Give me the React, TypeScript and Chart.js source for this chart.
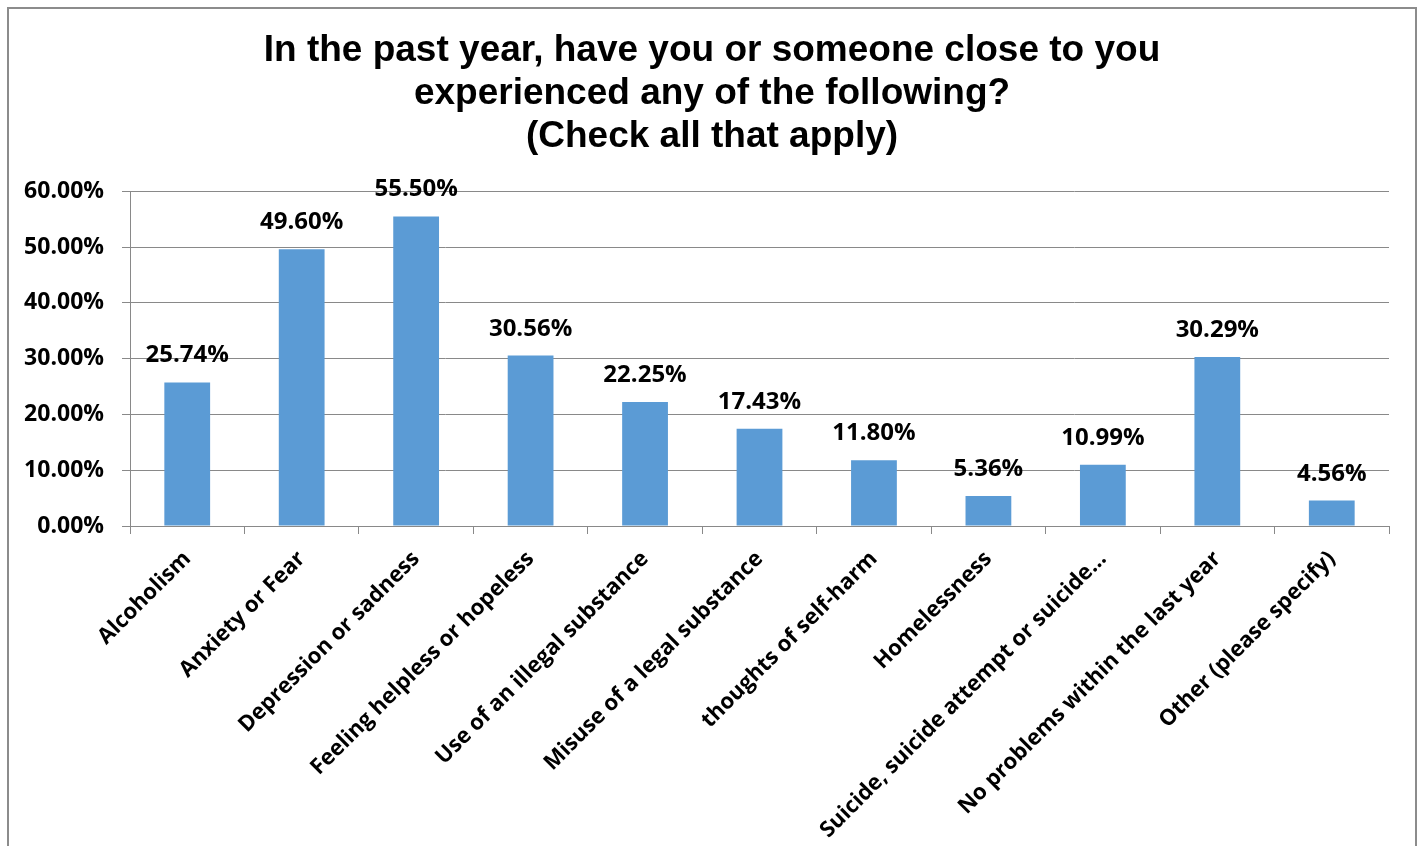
import React, { useEffect, useRef } from "react";
import { Chart, registerables } from "chart.js";

Chart.register(...registerables);

const titleLines = [
  "In the past year, have you or someone close to you",
  "experienced any of the following?",
  "(Check all that apply)",
];

const categories = [
  "Alcoholism",
  "Anxiety or Fear",
  "Depression or sadness",
  "Feeling helpless or hopeless",
  "Use of an illegal substance",
  "Misuse of a legal substance",
  "thoughts of self-harm",
  "Homelessness",
  "Suicide, suicide attempt or suicide…",
  "No problems within the last year",
  "Other (please specify)",
];

const values = [25.74, 49.6, 55.5, 30.56, 22.25, 17.43, 11.8, 5.36, 10.99, 30.29, 4.56];

const yTicks = [0, 10, 20, 30, 40, 50, 60];

const GRID = "#898989";
const BAR = "#5B9BD5";
const LABEL_FONT = "'Open Sans', sans-serif";

const dataLabels = {
  id: "dataLabels",
  afterDatasetsDraw(chart: any) {
    const ctx = chart.ctx;
    const meta = chart.getDatasetMeta(0);
    ctx.save();
    ctx.font = `bold 24px ${LABEL_FONT}`;
    ctx.fillStyle = "#000";
    ctx.textAlign = "center";
    ctx.textBaseline = "alphabetic";
    meta.data.forEach((bar: any, i: number) => {
      const v = chart.data.datasets[0].data[i] as number;
      ctx.fillText(v.toFixed(2) + "%", bar.x, bar.y - 20);
    });
    ctx.restore();
  },
};

export default function App() {
  const ref = useRef<HTMLCanvasElement | null>(null);

  useEffect(() => {
    if (!ref.current) return;
    const chart = new Chart(ref.current, {
      type: "bar",
      data: {
        labels: categories,
        datasets: [
          {
            data: values,
            backgroundColor: BAR,
            barPercentage: 0.4,
            categoryPercentage: 1,
          },
        ],
      },
      options: {
        responsive: false,
        animation: false,
        layout: { padding: 0 },
        plugins: {
          legend: { display: false },
          tooltip: { enabled: false },
          title: {
            display: true,
            text: titleLines,
            color: "#000",
            font: { family: "'Liberation Sans', Arial, sans-serif", size: 37, weight: "bold", lineHeight: 1.165 },
            padding: { top: 20, bottom: 33 },
          },
        },
        scales: {
          x: {
            grid: {
              display: true,
              drawOnChartArea: false,
              offset: true,
              color: GRID,
              tickLength: 8,
            },
            border: { display: true, color: GRID, width: 1 },
            ticks: {
              autoSkip: false,
              maxRotation: 45,
              minRotation: 45,
              color: "#000",
              padding: 12,
              font: { family: LABEL_FONT, size: 22, weight: "bold" },
            },
            afterFit(scale: any) {
              scale.height = 333;
            },
          },
          y: {
            min: 0,
            max: 60,
            afterBuildTicks(scale: any) {
              scale.ticks = yTicks.map((v) => ({ value: v }));
            },
            grid: { color: GRID, tickLength: 8, lineWidth: 1 },
            border: { display: true, color: GRID, width: 1 },
            ticks: {
              color: "#000",
              padding: 18,
              font: { family: LABEL_FONT, size: 23, weight: "bold" },
              callback: (v: any) => Number(v).toFixed(2) + "%",
            },
            afterFit(scale: any) {
              scale.width = 121;
            },
          },
          spacer: {
            type: "linear",
            position: "right",
            display: true,
            grid: { display: false, drawTicks: false },
            border: { display: false },
            ticks: { display: false },
            afterFit(scale: any) {
              scale.width = 26;
            },
          },
        },
      },
      plugins: [dataLabels],
    });
    return () => chart.destroy();
  }, []);

  return (
    <div
      style={{
        position: "fixed",
        left: 7,
        top: 7,
        width: 1406,
        height: 860,
        border: "2px solid #8c8c8c",
        background: "#fff",
      }}
    >
      <canvas ref={ref} width={1406} height={850} style={{ display: "block" }} />
    </div>
  );
}
